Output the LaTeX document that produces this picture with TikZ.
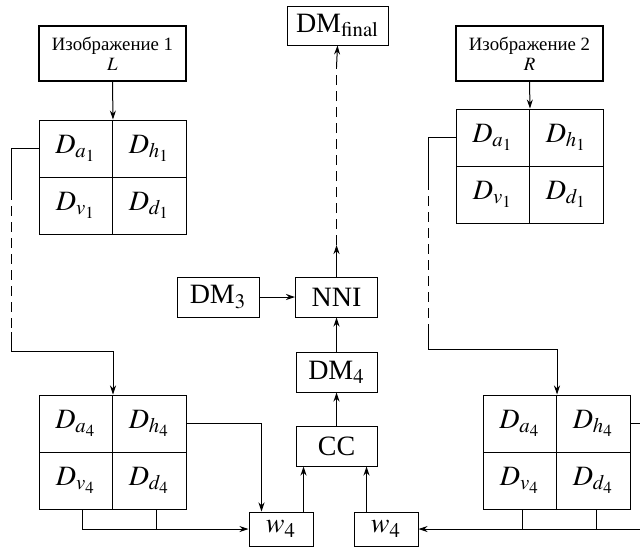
\documentclass[tikz,border=0pt]{standalone}
\usepackage{mathptmx}
\usepackage{fontspec}
\setmainfont{Liberation Serif}
\usetikzlibrary{arrows.meta}

\begin{document}
\begin{tikzpicture}[x=0.5pt,y=-0.5pt,line width=0.5pt,>={Stealth[length=4.5pt,width=3pt]},
	cell/.style={draw,minimum width=36.75pt,minimum height=28.5pt,inner sep=0pt,font=\fontsize{14}{16}\selectfont},
	imgbox/.style={draw,line width=1.1pt,minimum width=73.5pt,minimum height=27.5pt,align=center,inner sep=0pt,font=\fontsize{9.4}{10}\selectfont},
	blk/.style={draw,minimum width=41pt,minimum height=20pt,inner sep=0pt,font=\fontsize{14}{16}\selectfont},
	wbox/.style={draw,minimum width=32pt,minimum height=17pt,inner sep=0pt,font=\fontsize{14}{16}\selectfont},
	gap/.style={dash pattern=on 5pt off 3pt}]
			\useasboundingbox (0,0) rectangle (640,548);

			\node (imgL) at (112.5,53.5)[imgbox]{Изображение 1\\$L$};
			\node (imgR) at (529.5,53.5)[imgbox]{Изображение 2\\$R$};

			\node (la1) at (75.75,148.5)[cell]{$D_{a_1}$};
			\node (lh1) at (149.25,148.5)[cell]{$D_{h_1}$};
			\node (lv1) at (75.75,205.5)[cell]{$D_{v_1}$};
			\node (ld1) at (149.25,205.5)[cell]{$D_{d_1}$};

			\node (la4) at (75.75,423.5)[cell]{$D_{a_4}$};
			\node (lh4) at (149.25,423.5)[cell]{$D_{h_4}$};
			\node (lv4) at (75.75,480.5)[cell]{$D_{v_4}$};
			\node (ld4) at (149.25,480.5)[cell]{$D_{d_4}$};

			\node (ra1) at (492.75,137.5)[cell]{$D_{a_1}$};
			\node (rh1) at (566.25,137.5)[cell]{$D_{h_1}$};
			\node (rv1) at (492.75,194.5)[cell]{$D_{v_1}$};
			\node (rd1) at (566.25,194.5)[cell]{$D_{d_1}$};

			\node (ra4) at (519.75,423.5)[cell]{$D_{a_4}$};
			\node (rh4) at (593.25,423.5)[cell]{$D_{h_4}$};
			\node (rv4) at (519.75,480.5)[cell]{$D_{v_4}$};
			\node (rd4) at (593.25,480.5)[cell]{$D_{d_4}$};

			\node (DMf) at (337.5,25.5)[blk,minimum width=50.5pt,minimum height=19.5pt]{DM$_{\rm final}$};
			\node (DM3) at (218,297)[blk]{DM$_3$};
			\node (NNI) at (336.5,297)[blk]{NNI};
			\node (DM4) at (336.5,372)[blk,minimum width=40.5pt]{DM$_4$};
			\node (CC) at (336.5,446)[blk,minimum width=40.5pt]{CC};
			\node (w4L) at (281,529)[wbox]{$w_4$};
			\node (w4R) at (386,529)[wbox]{$w_4$};

			\draw[->] (imgL.south) -- (la1.north east);
			\draw[->] (imgR.south) -- (ra1.north east);

			\coordinate (ldash1) at (11,190);
			\coordinate (ldash2) at (11,332);
			\coordinate (lturn) at (11,351);
			\draw (la1.west) -| (ldash1);
			\draw[gap] (ldash1) -- (ldash2);
			\draw[->] (ldash2) -- (lturn) -| (la4.north east);

			\coordinate (rdash1) at (428,180);
			\coordinate (rdash2) at (428,330);
			\coordinate (rturn) at (428,349);
			\draw (ra1.west) -| (rdash1);
			\draw[gap] (rdash1) -- (rdash2);
			\draw[->] (rdash2) -- (rturn) -| (ra4.north east);

			\draw[->] (lh4.east) -| ([xshift=6.5pt]w4L.north west);
			\coordinate (lvdrop) at ([xshift=3.25pt]lv4.south);
			\coordinate (lddrop) at ([xshift=3.5pt]ld4.south);
			\draw[->] (lvdrop) |- (w4L.west);
			\draw (lddrop) -- (lddrop |- w4L.west);

			\coordinate (rout) at (650,423.5);
			\draw[->] (rh4.east) -- (rout) |- (w4R.east);
			\coordinate (rvdrop) at ([xshift=1.5pt]rv4.south);
			\coordinate (rddrop) at ([xshift=1.5pt]rd4.south);
			\draw (rvdrop) -- (rvdrop |- w4R.east);
			\draw (rddrop) -- (rddrop |- w4R.east);

			\coordinate (wl) at ([xshift=-5pt]w4L.north east);
			\draw[->] (wl) -- (wl |- CC.south);
			\coordinate (wr) at ([xshift=6.5pt]w4R.north west);
			\draw[->] (wr) -- (wr |- CC.south);

			\draw[->] (CC.north) -- (DM4.south);
			\draw[->] (DM4.north) -- (NNI.south);
			\draw[->] (DM3.east) -- (NNI.west);

			\coordinate (nup) at (336.5,245);
			\coordinate (ntop) at (336.5,67);
			\draw[->] (NNI.north) -- (nup);
			\draw[gap] (nup) -- (ntop);
			\draw[->] (ntop) -- (DMf.south);
		\end{tikzpicture}
\end{document}
